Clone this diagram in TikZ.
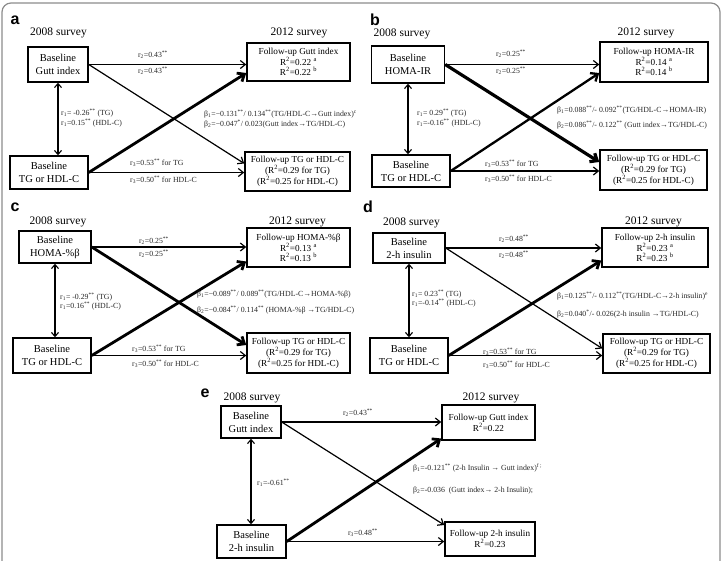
\documentclass[tikz,border=0pt]{standalone}
\usepackage{fontspec}
\setmainfont{Liberation Serif}
\setsansfont{Liberation Sans}
\usetikzlibrary{arrows.meta,calc}

\newcommand{\rsub}[1]{r\textsubscript{#1}}
\newcommand{\bsub}[1]{β\textsubscript{#1}}
\newcommand{\sps}[1]{\textsuperscript{#1}}

\tikzset{
  basebox/.style={draw,line width=1.5pt,align=center,inner sep=1pt,font=\fontsize{10.5}{13}\selectfont},
  fupbox/.style={draw,line width=1.5pt,align=center,inner sep=1pt,font=\fontsize{9.2}{10}\selectfont},
  sz/.style 2 args={minimum width=#1pt,minimum height=#2pt},
  svy/.style={font=\fontsize{11.5}{13}\selectfont,inner sep=0pt},
  tag/.style={font=\sffamily\bfseries\fontsize{16}{18}\selectfont,inner sep=0pt},
  lbl/.style={font=\fontsize{7.8}{9}\selectfont,inner sep=0pt,text=black!85},
  lbw/.style={lbl,anchor=west},
  arr/.style={-{Straight Barb[length=5pt,width=8pt]},line width=1.2pt},
  thk/.style={-{Straight Barb[length=6pt,width=10pt]},line width=2.8pt},
  dbl/.style={{Straight Barb[length=4pt,width=7pt]}-{Straight Barb[length=4pt,width=7pt]},line width=1.1pt}
}

\begin{document}
\begin{tikzpicture}[x=1pt,y=-1pt]
  \useasboundingbox (0,0) rectangle (723,560);
  % marco
  \draw[black!45,line width=1.2pt,rounded corners=9pt] (2,575)--(2,3)--(720,3)--(720,575);

  % panel a
  \node[tag] (ta) at (15,20) {a};
  \node[svy] (sa1) at (58.5,33) {2008 survey};
  \node[svy] (sa2) at (299,33) {2012 survey};
  \node[basebox,sz={60}{35}] (ba1) at (58,64.5) {Baseline\\Gutt index};
  \node[fupbox,sz={103}{38}] (fa1) at (298.5,62) {Follow-up Gutt index\\R\sps{2}=0.22 \sps{a}\\R\sps{2}=0.22 \sps{b}};
  \node[basebox,sz={78}{33}] (ba2) at (49,172.5) {Baseline\\TG or HDL-C};
  \node[fupbox,sz={105}{39}] (fa2) at (297.5,171.5) {Follow-up TG or HDL-C\\(R\sps{2}=0.29 for TG)\\(R\sps{2}=0.25 for HDL-C)};
  \draw[arr] (ba1.east)--(ba1.east -| fa1.west);
  \draw[arr] (ba1.east)--([yshift=8pt]fa2.west);
  \draw[thk] (ba2.east)--([yshift=-11pt]fa1.west);
  \draw[arr] (ba2.east)--(ba2.east -| fa2.west);
  \draw[dbl] (ba1.south)--(ba1.south |- ba2.north);
  \node[lbl] (la1) at (153,55) {\rsub{2}=0.43\sps{**}};
  \node[lbl] (la2) at (153,71) {\rsub{2}=0.43\sps{**}};
  \node[lbw] (la3) at (61,113) {\rsub{1}= -0.26\sps{**} (TG)};
  \node[lbw] (la4) at (61,123) {\rsub{1}=0.15\sps{**} (HDL-C)};
  \node[lbw] (la5) at (204,114) {\bsub{1}=−0.131\sps{**}/ 0.134\sps{**}(TG/HDL-C→Gutt index)\sps{c}};
  \node[lbw] (la6) at (204,124) {\bsub{2}=−0.047\sps{*}/ 0.023(Gutt index→TG/HDL-C)};
  \node[lbw] (la7) at (130,163) {\rsub{3}=0.53\sps{**} for TG};
  \node[lbw] (la8) at (130,180) {\rsub{3}=0.50\sps{**} for HDL-C};

  % panel b
  \node[tag] (tb) at (375,20) {b};
  \node[svy] (sb1) at (402,34) {2008 survey};
  \node[svy] (sb2) at (646,33) {2012 survey};
  \node[basebox,sz={73}{37}] (bb1) at (408,64.5) {Baseline\\HOMA-IR};
  \node[fupbox,sz={108}{40}] (fb1) at (654,62) {Follow-up HOMA-IR\\R\sps{2}=0.14 \sps{a}\\R\sps{2}=0.14 \sps{b}};
  \node[basebox,sz={78}{32}] (bb2) at (411,171) {Baseline\\TG or HDL-C};
  \node[fupbox,sz={107}{40}] (fb2) at (653.5,170) {Follow-up TG or HDL-C\\(R\sps{2}=0.29 for TG)\\(R\sps{2}=0.25 for HDL-C)};
  \draw[arr] (bb1.east)--(bb1.east -| fb1.west);
  \draw[thk,line width=3.2pt] (bb1.east)--([yshift=8pt]fb2.west);
  \draw[thk,line width=2.3pt] (bb2.east)--([yshift=-11pt]fb1.west);
  \draw[arr] (bb2.east)--(bb2.east -| fb2.west);
  \draw[dbl] (bb1.south)--(bb1.south |- bb2.north);
  \node[lbl] (lb1) at (511,54) {\rsub{2}=0.25\sps{**}};
  \node[lbl] (lb2) at (511,71) {\rsub{2}=0.25\sps{**}};
  \node[lbw] (lb3) at (417,113) {\rsub{1}= 0.29\sps{**} (TG)};
  \node[lbw] (lb4) at (417,123) {\rsub{1}=-0.16\sps{**} (HDL-C)};
  \node[lbw] (lb5) at (557,110) {\bsub{1}=0.088\sps{**}/- 0.092\sps{**}(TG/HDL-C→HOMA-IR)};
  \node[lbw] (lb6) at (557,125) {\bsub{2}=0.086\sps{**}/- 0.122\sps{**} (Gutt index→TG/HDL-C)};
  \node[lbw] (lb7) at (485,164) {\rsub{3}=0.53\sps{**} for TG};
  \node[lbw] (lb8) at (485,179) {\rsub{3}=0.50\sps{**} for HDL-C};

  % panel c
  \node[tag] (tc) at (15,207) {c};
  \node[svy] (sc1) at (58,222) {2008 survey};
  \node[svy] (sc2) at (297.5,222) {2012 survey};
  \node[basebox,sz={72}{32}] (bc1) at (55,247) {Baseline\\HOMA-\%β};
  \node[fupbox,sz={103}{39}] (fc1) at (298.5,247.5) {Follow-up HOMA-\%β\\R\sps{2}=0.13 \sps{a}\\R\sps{2}=0.13 \sps{b}};
  \node[basebox,sz={78}{35}] (bc2) at (52,355.5) {Baseline\\TG or HDL-C};
  \node[fupbox,sz={103}{40}] (fc2) at (298.5,353) {Follow-up TG or HDL-C\\(R\sps{2}=0.29 for TG)\\(R\sps{2}=0.25 for HDL-C)};
  \draw[arr] (bc1.east)--(bc1.east -| fc1.west);
  \draw[thk] (bc1.east)--([yshift=8pt]fc2.west);
  \draw[thk] (bc2.east)--([yshift=-14pt]fc1.west);
  \draw[arr] (bc2.east)--(bc2.east -| fc2.west);
  \draw[dbl] (bc1.south)--(bc1.south |- bc2.north);
  \node[lbl] (lc1) at (154,241) {\rsub{2}=0.25\sps{**}};
  \node[lbl] (lc2) at (154,254) {\rsub{2}=0.25\sps{**}};
  \node[lbw] (lc3) at (60,297) {\rsub{1}= -0.29\sps{**} (TG)};
  \node[lbw] (lc4) at (60,306) {\rsub{1}=0.16\sps{**} (HDL-C)};
  \node[lbw] (lc5) at (197,294) {\bsub{1}=−0.089\sps{**}/ 0.089\sps{**}(TG/HDL-C→HOMA-\%β)};
  \node[lbw] (lc6) at (197,310) {\bsub{2}=−0.084\sps{**}/ 0.114\sps{**} (HOMA-\%β →TG/HDL-C)};
  \node[lbw] (lc7) at (132,349) {\rsub{3}=0.53\sps{**} for TG};
  \node[lbw] (lc8) at (132,364) {\rsub{3}=0.50\sps{**} for HDL-C};

  % panel d
  \node[tag] (td) at (368,207) {d};
  \node[svy] (sd1) at (411.5,223) {2008 survey};
  \node[svy] (sd2) at (653.5,222) {2012 survey};
  \node[basebox,sz={72}{30}] (bd1) at (409,248) {Baseline\\2-h insulin};
  \node[fupbox,sz={106}{39}] (fd1) at (655,247.5) {Follow-up 2-h insulin\\R\sps{2}=0.23 \sps{a}\\R\sps{2}=0.23 \sps{b}};
  \node[basebox,sz={78}{35}] (bd2) at (409,355.5) {Baseline\\TG or HDL-C};
  \node[fupbox,sz={107}{39}] (fd2) at (656.5,353.5) {Follow-up TG or HDL-C\\(R\sps{2}=0.29 for TG)\\(R\sps{2}=0.25 for HDL-C)};
  \draw[arr] (bd1.east)--(bd1.east -| fd1.west);
  \draw[arr] (bd1.east)--([yshift=5pt]fd2.west);
  \draw[thk] (bd2.east)--([yshift=-13pt]fd1.west);
  \draw[arr] (bd2.east)--(bd2.east -| fd2.west);
  \draw[dbl] (bd1.south)--(bd1.south |- bd2.north);
  \node[lbl] (ld1) at (514,239) {\rsub{2}=0.48\sps{**}};
  \node[lbl] (ld2) at (514,255) {\rsub{2}=0.48\sps{**}};
  \node[lbw] (ld3) at (412,294) {\rsub{1}= 0.23\sps{**} (TG)};
  \node[lbw] (ld4) at (412,303) {\rsub{1}=-0.14\sps{**} (HDL-C)};
  \node[lbw] (ld5) at (557,296) {\bsub{1}=0.125\sps{**}/- 0.112\sps{**}(TG/HDL-C→2-h insulin)\sps{e}};
  \node[lbw] (ld6) at (557,314) {\bsub{2}=0.040\sps{*}/- 0.026(2-h insulin →TG/HDL-C)};
  \node[lbw] (ld7) at (483,352) {\rsub{3}=0.53\sps{**} for TG};
  \node[lbw] (ld8) at (483,365) {\rsub{3}=0.50\sps{**} for HDL-C};

  % panel e
  \node[tag] (te) at (205,393) {e};
  \node[svy] (se1) at (252,398) {2008 survey};
  \node[svy] (se2) at (491,398) {2012 survey};
  \node[basebox,sz={60}{32}] (be1) at (251,422) {Baseline\\Gutt index};
  \node[fupbox,sz={93}{35}] (fe1) at (488.5,422.5) {Follow-up Gutt index\\R\sps{2}=0.22};
  \node[basebox,sz={69}{33}] (be2) at (251.5,541.5) {Baseline\\2-h insulin};
  \node[fupbox,sz={90}{34}] (fe2) at (490,539) {Follow-up 2-h insulin\\R\sps{2}=0.23};
  \draw[arr] (be1.east)--(be1.east -| fe1.west);
  \draw[arr] (be1.east)--([yshift=14pt]fe2.west);
  \draw[thk] (be2.east)--([yshift=-16pt]fe1.west);
  \draw[arr] (be2.east)--(be2.east -| fe2.west);
  \draw[dbl] (be1.south)--(be1.south |- be2.north);
  \node[lbl] (le1) at (358,413) {\rsub{2}=0.43\sps{**}};
  \node[lbw] (le2) at (257,483) {\rsub{1}=-0.61\sps{**}};
  \node[lbw] (le3) at (413,468) {\bsub{1}=-0.121\sps{**} (2-h Insulin → Gutt index)\sps{f ;}};
  \node[lbw] (le4) at (413,491) {\bsub{2}=-0.036~ (Gutt index→ 2-h Insulin);};
  \node[lbl] (le5) at (363,533) {\rsub{3}=0.48\sps{**}};
\end{tikzpicture}
\end{document}
